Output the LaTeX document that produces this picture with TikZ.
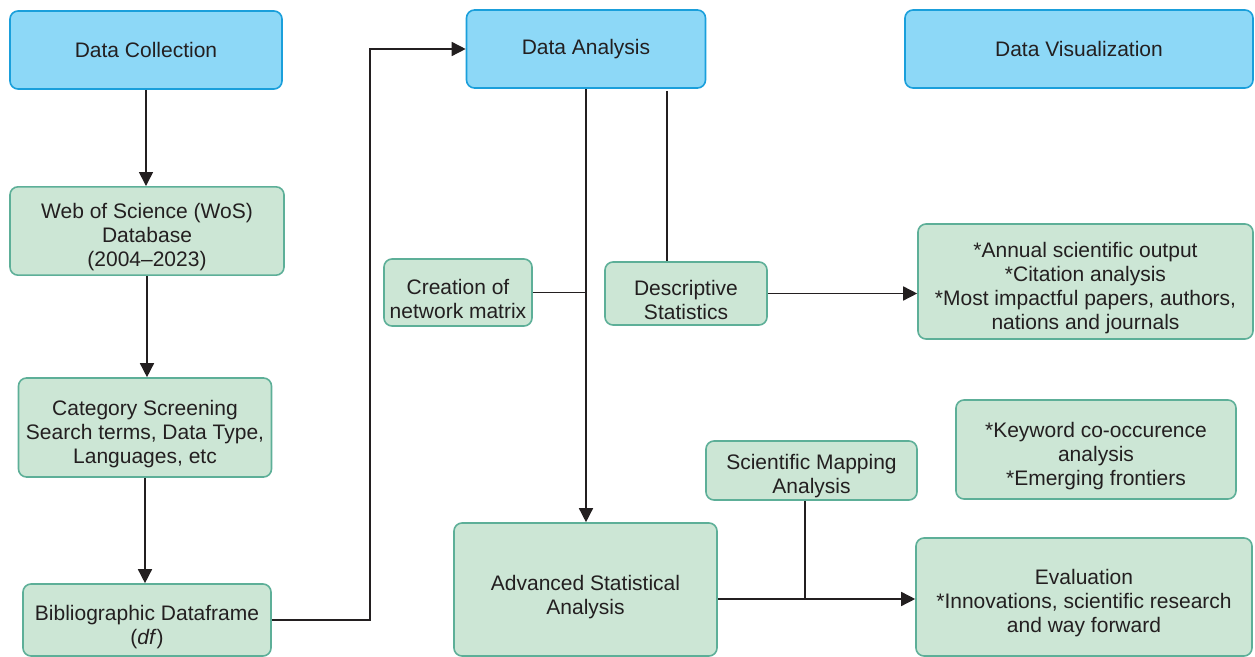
\documentclass[tikz,border=0pt]{standalone}
\usepackage{fontspec}
\setmainfont{Liberation Sans}
\usetikzlibrary{arrows.meta}
\definecolor{headfill}{HTML}{8DD8F7}
\definecolor{headline}{HTML}{1A9FDB}
\definecolor{stepfill}{HTML}{CCE6D5}
\definecolor{stepline}{HTML}{5DAF98}
\definecolor{ink}{HTML}{231F20}
\newcommand{\padtop}[1][14pt]{\rule{0pt}{#1}}
\tikzset{
  headbox/.style={draw=headline, fill=headfill, line width=0.8pt, rounded corners=4pt, inner sep=2pt, text=ink, align=center},
  stagebox/.style={draw=stepline, fill=stepfill, line width=0.8pt, rounded corners=4pt, inner sep=2pt, text=ink, align=center},
  link/.style={draw=ink, line width=0.75pt},
  arr/.style={link, -{Triangle[length=7pt,width=7pt]}}
}
\begin{document}
\begin{tikzpicture}[x=0.5pt, y=-0.5pt, font=\fontsize{10.5}{12}\selectfont]
                    \useasboundingbox (0,0) rectangle (1255,657);
                    % stage headers
                    \node[headbox, minimum width=136pt, minimum height=39pt] (collect) at (146,50) {Data Collection};
                    \node[headbox, minimum width=119.5pt, minimum height=39pt] (analysis) at (586,49) {Data Analysis};
                    \node[headbox, minimum width=174pt, minimum height=39pt] (visual) at (1079,49) {Data Visualization};
                    % collection column
                    \node[stagebox, minimum width=137pt, minimum height=44pt] (wos) at (147,231) {\padtop Web of Science (WoS)\\Database\\(2004--2023)};
                    \node[stagebox, minimum width=126.5pt, minimum height=49.5pt] (screen) at (145,427.5) {\padtop Category Screening\\Search terms, Data Type,\\Languages, etc};
                    \node[stagebox, minimum width=124pt, minimum height=36pt] (biblio) at (147,620) {\padtop[15pt]Bibliographic Dataframe\\(\textit{df})};
                    % analysis column
                    \node[stagebox, minimum width=74pt, minimum height=33.5pt] (network) at (458,292.5) {\padtop Creation of\\network matrix};
                    \node[stagebox, minimum width=81pt, minimum height=31.5pt] (descr) at (686,293.5) {\padtop Descriptive\\Statistics};
                    \node[stagebox, inner ysep=0pt, minimum width=105.5pt, minimum height=29.5pt] (mapping) at (811.5,470.5) {\padtop[13pt]Scientific Mapping\\Analysis};
                    \node[stagebox, minimum width=131.5pt, minimum height=66.5pt] (advanced) at (585.5,589.5) {\padtop[15.5pt]Advanced Statistical\\Analysis};
                    % visualization column
                    \node[stagebox, minimum width=167.5pt, minimum height=57.5pt] (annual) at (1085.5,281.5) {\padtop *Annual scientific output\\*Citation analysis\\*Most impactful papers, authors,\\nations and journals};
                    \node[stagebox, minimum width=140pt, minimum height=49.5pt] (keyword) at (1096,449.5) {\padtop *Keyword co-occurence\\analysis\\*Emerging frontiers};
                    \node[stagebox, minimum width=168pt, minimum height=59pt] (evaluation) at (1084,597) {\padtop Evaluation\\*Innovations, scientific research\\and way forward};
                    % connectors
                    \draw[arr] (collect.south) -- (collect.south |- wos.north);
                    \draw[arr] (wos.south) -- (wos.south |- screen.north);
                    \draw[arr] (screen.south) -- (screen.south |- biblio.north);
                    \draw[arr] (biblio.east) -- ++(98,0) |- (analysis.west);
                    \draw[arr] (analysis.south) -- (analysis.south |- advanced.north);
                    \draw[link] (network.east) -- (network.east -| analysis.south);
                    \coordinate (split) at (667,91);
                    \draw[link] (split) -- (split |- descr.north);
                    \draw[arr] (descr.east) -- (descr.east -| annual.west);
                    \coordinate (join) at (805,599);
                    \draw[link] (mapping.south -| join) -- (join);
                    \draw[arr] (advanced.east |- join) -- (join -| evaluation.west);
\end{tikzpicture}
\end{document}
